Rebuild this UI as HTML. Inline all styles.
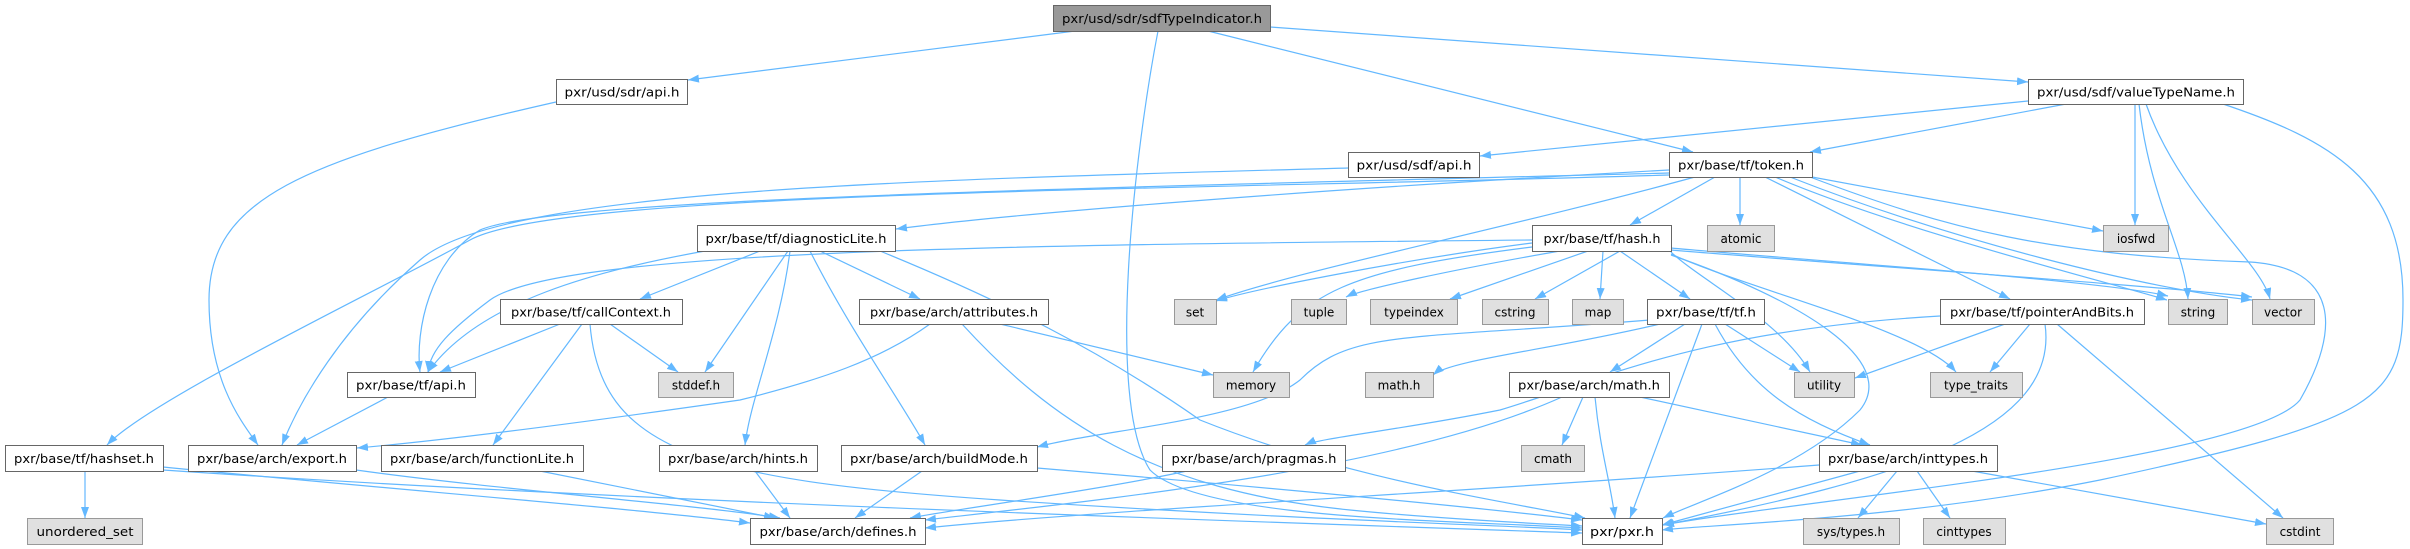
<!DOCTYPE html>
<html><head><meta charset="utf-8"><style>
html,body{margin:0;padding:0;background:#fff;}
svg{display:block;}
.n rect{fill:#fff;stroke:#666;stroke-width:1;}
.g rect{fill:#e0e0e0;stroke:#999;stroke-width:1;}
.r rect{fill:#999;stroke:#666;stroke-width:1;}
text{font-family:"DejaVu Sans","Liberation Sans",sans-serif;font-size:12px;fill:#000;text-anchor:middle;}
path.e{fill:none;stroke:#63b8ff;stroke-width:1.2;marker-end:url(#a);}
</style></head><body>
<svg width="2410" height="549" viewBox="0 0 2410 549" xmlns="http://www.w3.org/2000/svg">
<defs><marker id="a" markerUnits="userSpaceOnUse" markerWidth="12" markerHeight="10" refX="11" refY="4" orient="auto"><path d="M0,0 L11,4 L0,8 z" fill="#63b8ff"/></marker></defs>
<g>
<path class="e" d="M1075,31 L688,80"/>
<path class="e" d="M1270,27 L2028,82"/>
<path class="e" d="M1208,31 L1693,152"/>
<path class="e" d="M1158,31 C1135,150 1105,400 1150,470 C1200,520 1450,520 1582,528"/>
<path class="e" d="M556,102 C300,160 209,200 209,300 C209,380 240,420 258,445"/>
<path class="e" d="M2028,101 L1480,156"/>
<path class="e" d="M2066,104 L1810,152"/>
<path class="e" d="M2135,104 L2135,225"/>
<path class="e" d="M2139,104 C2150,200 2185,250 2188,299"/>
<path class="e" d="M2146,104 C2180,200 2260,260 2270,299"/>
<path class="e" d="M2223,104 C2330,140 2403,180 2403,300 C2403,400 2380,420 2100,480 C1900,520 1700,525 1662,530"/>
<path class="e" d="M1348,168 C900,180 500,190 420,260 C340,330 300,400 282,445"/>
<path class="e" d="M1669,170 C1300,190 1000,215 896,229"/>
<path class="e" d="M1715,177 L1630,225"/>
<path class="e" d="M1740,177 L1740,225"/>
<path class="e" d="M1812,177 L2103,231"/>
<path class="e" d="M1765,177 L2010,299"/>
<path class="e" d="M1775,177 C1900,230 2100,280 2167,300"/>
<path class="e" d="M1790,177 C1950,240 2150,290 2252,300"/>
<path class="e" d="M1695,177 C1500,230 1300,270 1216,300"/>
<path class="e" d="M1669,173 C1000,190 550,200 480,230 C430,260 415,330 420,372"/>
<path class="e" d="M1669,175 C1200,190 560,190 470,240 C360,300 150,400 107,445"/>
<path class="e" d="M1810,177 C1950,230 2050,255 2250,262 C2340,268 2340,330 2300,400 C2250,460 1800,500 1663,525"/>
<path class="e" d="M705,251 C600,270 480,300 428,372"/>
<path class="e" d="M760,251 L640,299"/>
<path class="e" d="M820,251 L920,299"/>
<path class="e" d="M788,251 L705,372"/>
<path class="e" d="M790,251 C780,330 750,400 745,445"/>
<path class="e" d="M810,251 C850,330 900,400 925,445"/>
<path class="e" d="M880,251 C1000,300 1100,350 1200,420 C1350,480 1500,500 1585,518"/>
<path class="e" d="M560,324 L440,372"/>
<path class="e" d="M610,324 L678,372"/>
<path class="e" d="M582,324 L493,445"/>
<path class="e" d="M590,324 C600,450 700,480 1000,500 C1300,520 1500,525 1582,530"/>
<path class="e" d="M930,324 C880,360 820,380 740,400 C600,420 450,440 357,448"/>
<path class="e" d="M1000,324 L1213,375"/>
<path class="e" d="M962,324 C1050,420 1150,490 1350,510 C1450,520 1550,524 1582,526"/>
<path class="e" d="M1532,243 C1400,260 1250,290 1216,301"/>
<path class="e" d="M1560,251 C1450,270 1360,290 1346,297"/>
<path class="e" d="M1588,251 L1450,299"/>
<path class="e" d="M1620,251 L1535,299"/>
<path class="e" d="M1603,251 L1600,299"/>
<path class="e" d="M1620,251 L1690,299"/>
<path class="e" d="M1532,247 C1350,270 1300,290 1253,372"/>
<path class="e" d="M1532,240 C1000,245 560,250 490,300 C450,330 430,350 428,372"/>
<path class="e" d="M1671,248 C1800,260 2100,280 2168,296"/>
<path class="e" d="M1671,250 C1850,265 2150,285 2252,297"/>
<path class="e" d="M1671,252 C1700,280 1780,320 1810,372"/>
<path class="e" d="M1671,254 C1750,290 1920,330 1956,372"/>
<path class="e" d="M1671,255 C1800,300 1900,360 1860,410 C1800,470 1700,500 1663,518"/>
<path class="e" d="M1660,324 C1550,350 1450,360 1433,375"/>
<path class="e" d="M1685,324 L1610,372"/>
<path class="e" d="M1725,324 L1800,372"/>
<path class="e" d="M1715,324 C1750,390 1800,420 1870,445"/>
<path class="e" d="M1702,324 L1630,518"/>
<path class="e" d="M1650,320 C1400,340 1350,330 1300,380 C1250,420 1100,430 1037,447"/>
<path class="e" d="M2005,324 L1855,378"/>
<path class="e" d="M2030,324 L1990,372"/>
<path class="e" d="M2057,324 L2283,518"/>
<path class="e" d="M2045,324 C2060,430 1900,480 1663,525"/>
<path class="e" d="M1940,316 C1700,330 1600,380 1500,410 C1400,430 1320,438 1305,445"/>
<path class="e" d="M1583,397 L1562,445"/>
<path class="e" d="M1640,397 L1862,445"/>
<path class="e" d="M1562,397 C1400,470 1100,500 925,520"/>
<path class="e" d="M1595,397 C1600,450 1610,480 1615,518"/>
<path class="e" d="M1819,465 C1500,490 1100,510 925,528"/>
<path class="e" d="M1860,471 L1662,525"/>
<path class="e" d="M1897,471 L1858,518"/>
<path class="e" d="M1917,471 L1950,518"/>
<path class="e" d="M1972,471 L2266,524"/>
<path class="e" d="M85,471 L85,518"/>
<path class="e" d="M163,467 C400,490 650,510 750,523"/>
<path class="e" d="M163,470 C600,500 1200,520 1582,533"/>
<path class="e" d="M356,470 C500,490 700,505 780,518"/>
<path class="e" d="M540,471 L775,518"/>
<path class="e" d="M755,471 L790,518"/>
<path class="e" d="M922,471 L855,518"/>
<path class="e" d="M1037,468 C1300,490 1500,510 1582,520"/>
<path class="e" d="M1187,471 C1100,490 950,510 910,518"/>
<path class="e" d="M388,397 L297,445"/>
</g>
<g class="r"><rect x="1053.5" y="5.5" width="217" height="26"/><text x="1162" y="23" textLength="200" lengthAdjust="spacingAndGlyphs">pxr/usd/sdr/sdfTypeIndicator.h</text></g>
<g class="n"><rect x="556.5" y="79.5" width="131" height="25"/><text x="622" y="96.5" textLength="115" lengthAdjust="spacingAndGlyphs">pxr/usd/sdr/api.h</text></g>
<g class="n"><rect x="2028.5" y="79.5" width="215" height="25"/><text x="2136" y="96.5" textLength="198" lengthAdjust="spacingAndGlyphs">pxr/usd/sdf/valueTypeName.h</text></g>
<g class="n"><rect x="1348.5" y="152.5" width="131" height="25"/><text x="1414" y="169.5" textLength="115" lengthAdjust="spacingAndGlyphs">pxr/usd/sdf/api.h</text></g>
<g class="n"><rect x="1669.5" y="152.5" width="143" height="25"/><text x="1741" y="169.5" textLength="126" lengthAdjust="spacingAndGlyphs">pxr/base/tf/token.h</text></g>
<g class="n"><rect x="697.5" y="225.5" width="198" height="26"/><text x="796" y="243" textLength="181" lengthAdjust="spacingAndGlyphs">pxr/base/tf/diagnosticLite.h</text></g>
<g class="n"><rect x="1532.5" y="225.5" width="139" height="26"/><text x="1602" y="243" textLength="117" lengthAdjust="spacingAndGlyphs">pxr/base/tf/hash.h</text></g>
<g class="g"><rect x="1707.5" y="225.5" width="67" height="26"/><text x="1741" y="243">atomic</text></g>
<g class="g"><rect x="2103.5" y="225.5" width="65" height="26"/><text x="2136" y="243">iosfwd</text></g>
<g class="n"><rect x="500.5" y="299.5" width="182" height="25"/><text x="591" y="316.5" textLength="160" lengthAdjust="spacingAndGlyphs">pxr/base/tf/callContext.h</text></g>
<g class="n"><rect x="859.5" y="299.5" width="189" height="25"/><text x="954" y="316.5" textLength="168" lengthAdjust="spacingAndGlyphs">pxr/base/arch/attributes.h</text></g>
<g class="g"><rect x="1174.5" y="299.5" width="42" height="25"/><text x="1195" y="316.5">set</text></g>
<g class="g"><rect x="1291.5" y="299.5" width="55" height="25"/><text x="1319" y="316.5">tuple</text></g>
<g class="g"><rect x="1370.5" y="299.5" width="87" height="25"/><text x="1414" y="316.5">typeindex</text></g>
<g class="g"><rect x="1482.5" y="299.5" width="66" height="25"/><text x="1515" y="316.5">cstring</text></g>
<g class="g"><rect x="1572.5" y="299.5" width="51" height="25"/><text x="1598" y="316.5">map</text></g>
<g class="n"><rect x="1647.5" y="299.5" width="117" height="25"/><text x="1706" y="316.5" textLength="100" lengthAdjust="spacingAndGlyphs">pxr/base/tf/tf.h</text></g>
<g class="n"><rect x="1940.5" y="299.5" width="204" height="25"/><text x="2042" y="316.5" textLength="184" lengthAdjust="spacingAndGlyphs">pxr/base/tf/pointerAndBits.h</text></g>
<g class="g"><rect x="2168.5" y="299.5" width="59" height="25"/><text x="2198" y="316.5">string</text></g>
<g class="g"><rect x="2252.5" y="299.5" width="62" height="25"/><text x="2283" y="316.5">vector</text></g>
<g class="n"><rect x="347.5" y="372.5" width="128" height="25"/><text x="411" y="389.5" textLength="110" lengthAdjust="spacingAndGlyphs">pxr/base/tf/api.h</text></g>
<g class="g"><rect x="658.5" y="372.5" width="75" height="25"/><text x="696" y="389.5">stddef.h</text></g>
<g class="g"><rect x="1213.5" y="372.5" width="76" height="25"/><text x="1251" y="389.5">memory</text></g>
<g class="g"><rect x="1365.5" y="372.5" width="68" height="25"/><text x="1399" y="389.5">math.h</text></g>
<g class="n"><rect x="1509.5" y="372.5" width="160" height="25"/><text x="1589" y="389.5" textLength="142" lengthAdjust="spacingAndGlyphs">pxr/base/arch/math.h</text></g>
<g class="g"><rect x="1794.5" y="372.5" width="60" height="25"/><text x="1824" y="389.5">utility</text></g>
<g class="g"><rect x="1930.5" y="372.5" width="92" height="25"/><text x="1976" y="389.5">type_traits</text></g>
<g class="n"><rect x="5.5" y="445.5" width="158" height="26"/><text x="84" y="463" textLength="140" lengthAdjust="spacingAndGlyphs">pxr/base/tf/hashset.h</text></g>
<g class="n"><rect x="188.5" y="445.5" width="168" height="26"/><text x="272" y="463" textLength="150" lengthAdjust="spacingAndGlyphs">pxr/base/arch/export.h</text></g>
<g class="n"><rect x="381.5" y="445.5" width="202" height="26"/><text x="482" y="463" textLength="184" lengthAdjust="spacingAndGlyphs">pxr/base/arch/functionLite.h</text></g>
<g class="n"><rect x="659.5" y="445.5" width="158" height="26"/><text x="738" y="463" textLength="140" lengthAdjust="spacingAndGlyphs">pxr/base/arch/hints.h</text></g>
<g class="n"><rect x="841.5" y="445.5" width="196" height="26"/><text x="939" y="463" textLength="178" lengthAdjust="spacingAndGlyphs">pxr/base/arch/buildMode.h</text></g>
<g class="n"><rect x="1162.5" y="445.5" width="183" height="26"/><text x="1254" y="463" textLength="165" lengthAdjust="spacingAndGlyphs">pxr/base/arch/pragmas.h</text></g>
<g class="g"><rect x="1521.5" y="445.5" width="63" height="26"/><text x="1553" y="463">cmath</text></g>
<g class="n"><rect x="1819.5" y="445.5" width="178" height="26"/><text x="1908" y="463" textLength="160" lengthAdjust="spacingAndGlyphs">pxr/base/arch/inttypes.h</text></g>
<g class="g"><rect x="27.5" y="518.5" width="115" height="26"/><text x="85" y="536" textLength="97" lengthAdjust="spacingAndGlyphs">unordered_set</text></g>
<g class="n"><rect x="750.5" y="518.5" width="175" height="26"/><text x="838" y="536" textLength="157" lengthAdjust="spacingAndGlyphs">pxr/base/arch/defines.h</text></g>
<g class="n"><rect x="1582.5" y="518.5" width="80" height="26"/><text x="1622" y="536" textLength="64" lengthAdjust="spacingAndGlyphs">pxr/pxr.h</text></g>
<g class="g"><rect x="1803.5" y="518.5" width="96" height="26"/><text x="1851" y="536">sys/types.h</text></g>
<g class="g"><rect x="1923.5" y="518.5" width="82" height="26"/><text x="1964" y="536">cinttypes</text></g>
<g class="g"><rect x="2266.5" y="518.5" width="67" height="26"/><text x="2300" y="536">cstdint</text></g>
</svg>
</body></html>
